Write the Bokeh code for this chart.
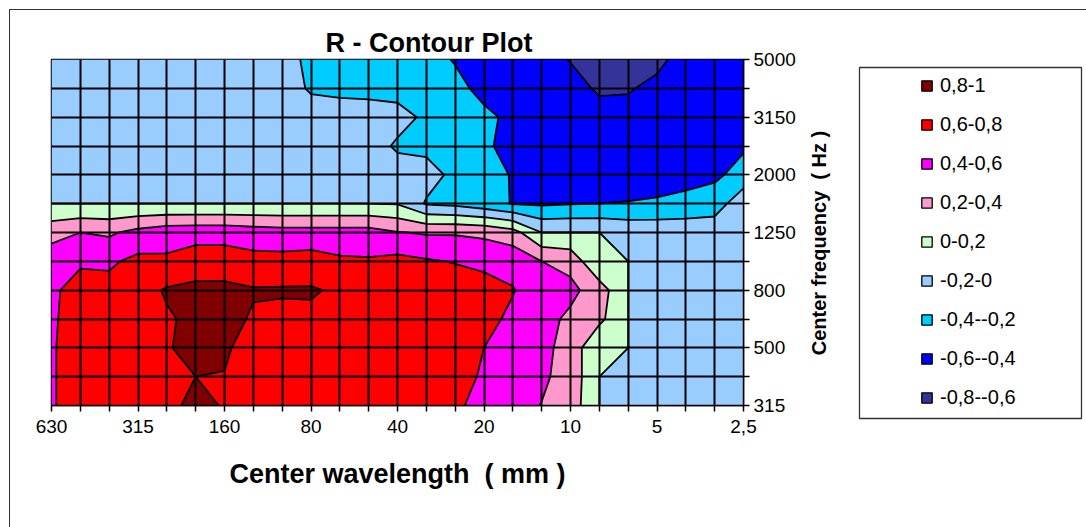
import numpy as np

from bokeh.plotting import figure
from bokeh.layouts import row, column
from bokeh.models import (FixedTicker, Legend, LegendItem, LinearAxis, Range1d,
                          Spacer)
from bokeh.embed import file_html
from bokeh.resources import INLINE

# 1/3-octave centre wavelengths (mm), left to right
wavelength_labels = ["630", "500", "400", "315", "250", "200", "160", "125",
                     "100", "80", "63", "50", "40", "31,5", "25", "20", "16",
                     "12,5", "10", "8", "6,3", "5", "4", "3,15", "2,5"]
# 1/3-octave centre frequencies (Hz), bottom to top
frequency_labels = ["315", "400", "500", "630", "800", "1000", "1250", "1600",
                    "2000", "2500", "3150", "4000", "5000"]

# R for each frequency band, one value per wavelength band (630 mm ... 2,5 mm)
r_315 = [0.58, 0.70, 0.72, 0.74, 0.76, 0.84, 0.79, 0.74, 0.74, 0.74, 0.74, 0.74, 0.74,
         0.71, 0.65, 0.50, 0.47, 0.395, 0.31, 0.0, -0.05, -0.08, -0.08, -0.08, -0.08]
r_400 = [0.58, 0.70, 0.72, 0.74, 0.76, 0.80, 0.795, 0.74, 0.74, 0.74, 0.74, 0.74, 0.74,
         0.72, 0.66, 0.58, 0.50, 0.43, 0.33, 0.0, -0.05, -0.08, -0.08, -0.08, -0.08]
r_500 = [0.58, 0.70, 0.72, 0.74, 0.79, 0.84, 0.82, 0.74, 0.74, 0.74, 0.74, 0.74, 0.74,
         0.72, 0.68, 0.60, 0.52, 0.45, 0.33, 0.0, 0.0, -0.08, -0.08, -0.08, -0.08]
r_630 = [0.57, 0.70, 0.70, 0.74, 0.78, 0.84, 0.86, 0.78, 0.75, 0.76, 0.75, 0.74, 0.74,
         0.73, 0.69, 0.66, 0.56, 0.47, 0.36, 0.25, 0.0, -0.08, -0.08, -0.08, -0.08]
r_800 = [0.56, 0.69, 0.66, 0.72, 0.82, 0.85, 0.85, 0.815, 0.82, 0.82, 0.77, 0.74, 0.74,
         0.73, 0.70, 0.70, 0.61, 0.50, 0.45, 0.30, 0.0, -0.08, -0.08, -0.08, -0.08]
r_1000 = [0.51, 0.57, 0.57, 0.65, 0.63, 0.69, 0.69, 0.66, 0.66, 0.68, 0.63, 0.62, 0.66,
          0.62, 0.59, 0.54, 0.54, 0.40, 0.34, 0.0, 0.0, -0.08, -0.08, -0.08, -0.08]
r_1250 = [0.33, 0.40, 0.37, 0.46, 0.52, 0.53, 0.53, 0.50, 0.48, 0.48, 0.48, 0.48, 0.41,
          0.38, 0.38, 0.36, 0.28, 0.0, 0.0, 0.0, -0.05, -0.06, -0.06, -0.05, -0.05]
r_1600 = [0.0, 0.0, 0.0, 0.0, 0.0, 0.0, 0.0, 0.0, 0.0, 0.0, 0.0, 0.0, -0.01,
          -0.22, -0.25, -0.32, -0.41, -0.43, -0.41, -0.40, -0.39, -0.375, -0.35, -0.32, -0.04]
r_2000 = [-0.1, -0.1, -0.1, -0.1, -0.1, -0.1, -0.1, -0.1, -0.1, -0.1, -0.1, -0.1, -0.12,
          -0.12, -0.25, -0.34, -0.41, -0.50, -0.52, -0.52, -0.51, -0.49, -0.46, -0.43, -0.34]
r_2500 = [-0.1, -0.1, -0.1, -0.1, -0.1, -0.1, -0.1, -0.1, -0.1, -0.12, -0.12, -0.12, -0.225,
          -0.25, -0.28, -0.37, -0.46, -0.52, -0.54, -0.55, -0.55, -0.54, -0.53, -0.50, -0.42]
r_3150 = [-0.1, -0.1, -0.1, -0.1, -0.1, -0.1, -0.1, -0.1, -0.1, -0.12, -0.12, -0.12, -0.14,
          -0.23, -0.30, -0.37, -0.43, -0.50, -0.53, -0.56, -0.56, -0.55, -0.54, -0.52, -0.50]
r_4000 = [-0.1, -0.1, -0.1, -0.1, -0.1, -0.1, -0.1, -0.1, -0.12, -0.22, -0.24, -0.25, -0.26,
          -0.30, -0.36, -0.44, -0.50, -0.54, -0.56, -0.615, -0.61, -0.57, -0.55, -0.54, -0.52]
r_5000 = [-0.1, -0.1, -0.1, -0.1, -0.1, -0.1, -0.1, -0.1, -0.15, -0.23, -0.28, -0.30, -0.32,
          -0.35, -0.41, -0.48, -0.52, -0.56, -0.605, -0.68, -0.68, -0.63, -0.55, -0.55, -0.52]

# contour bands, lowest first
band_levels = [-0.8, -0.6, -0.4, -0.2, 0.0, 0.2, 0.4, 0.6, 0.8, 1.0]
band_labels = ["-0,8--0,6", "-0,6--0,4", "-0,4--0,2", "-0,2-0", "0-0,2",
               "0,2-0,4", "0,4-0,6", "0,6-0,8", "0,8-1"]
band_colors = ["#333399", "#0000FF", "#00CCFF", "#99CCFF", "#CCFFCC",
               "#FF99CC", "#FF00FF", "#FF0000", "#800000"]

z = np.array([r_315, r_400, r_500, r_630, r_800, r_1000, r_1250, r_1600,
              r_2000, r_2500, r_3150, r_4000, r_5000])
xs = np.arange(len(wavelength_labels))
ys = np.arange(len(frequency_labels))

# a value of exactly 0 belongs to the "0-0,2" band
contour_levels = [lv - 1e-4 if lv == 0.0 else lv for lv in band_levels]

FONT = "Liberation Sans"
TICK_SIZE = "19px"

# ---- contour plot -------------------------------------------------------
fig = figure(width=790, height=517,
             x_range=Range1d(0, len(xs) - 1), y_range=Range1d(0, len(ys) - 1),
             y_axis_location="right",
             output_backend="svg", toolbar_location=None,
             min_border_left=41, min_border_right=57,
             min_border_top=49, min_border_bottom=122)
fig.background_fill_color = "white"
fig.border_fill_color = "white"
fig.outline_line_color = "black"
fig.outline_line_width = 1.5

fig.contour(xs, ys, z, levels=contour_levels, fill_color=band_colors,
            line_color="black", line_width=1.8)

fig.title.text = "R - Contour Plot"
fig.title.align = "left"
fig.title.offset = 274
fig.title.standoff = 4
fig.title.text_font = FONT
fig.title.text_font_size = "27px"
fig.title.text_font_style = "bold"
fig.title.text_color = "black"

fig.xaxis.ticker = FixedTicker(ticks=list(xs), minor_ticks=[])
fig.xaxis.major_label_overrides = {int(i): (lbl if i % 3 == 0 else "")
                                   for i, lbl in enumerate(wavelength_labels)}
fig.yaxis.ticker = FixedTicker(ticks=list(ys), minor_ticks=[])
fig.yaxis.major_label_overrides = {int(i): (lbl if i % 2 == 0 else "")
                                   for i, lbl in enumerate(frequency_labels)}
for ax in (fig.xaxis[0], fig.yaxis[0]):
    ax.axis_line_color = "black"
    ax.axis_line_width = 1.5
    ax.major_tick_line_color = "black"
    ax.major_tick_line_width = 1.5
    ax.major_tick_in = 0
    ax.major_tick_out = 6
    ax.minor_tick_line_color = None
    ax.major_label_text_font = FONT
    ax.major_label_text_font_size = TICK_SIZE
    ax.major_label_text_color = "black"
fig.xaxis.major_label_standoff = 8
fig.yaxis.major_label_standoff = 4
fig.xaxis.axis_label = "Center wavelength\u00a0 ( mm )"
fig.xaxis.axis_label_text_font = FONT
fig.xaxis.axis_label_text_font_size = "27px"
fig.xaxis.axis_label_text_font_style = "bold"
fig.xaxis.axis_label_text_color = "black"
fig.xaxis.axis_label_standoff = 23

# grid drawn over the filled bands
fig.grid.grid_line_color = "black"
fig.grid.grid_line_width = 2
fig.grid.grid_line_alpha = 1.0
fig.grid.level = "overlay"

# ---- legend box, with the frequency axis title on its left ---------------
leg = figure(width=286, height=509, x_range=Range1d(0, 1), y_range=Range1d(0, 1),
             x_axis_location=None, y_axis_location=None,
             output_backend="svg", toolbar_location=None,
             min_border_left=59, min_border_right=5,
             min_border_top=49, min_border_bottom=109)
leg.background_fill_color = "white"
leg.border_fill_color = "white"
leg.outline_line_color = "#333333"
leg.outline_line_width = 1.3
leg.grid.visible = False

freq_title = LinearAxis(ticker=FixedTicker(ticks=[]),
                        axis_label="Center frequency\u00a0 ( Hz )",
                        axis_label_text_font=FONT,
                        axis_label_text_font_size="20px",
                        axis_label_text_font_style="bold",
                        axis_label_text_color="black",
                        axis_label_standoff=30,
                        axis_line_color=None, major_tick_line_color=None,
                        minor_tick_line_color=None, major_tick_out=0,
                        major_label_text_font_size="0px")
leg.add_layout(freq_title, "left")

# legend swatches come from placeholder renderers that draw nothing
nan = np.array([np.nan])
items = []
for lbl, col in reversed(list(zip(band_labels, band_colors))):
    swatch = leg.quad(left=nan, right=nan, top=nan, bottom=nan, fill_color=col,
                      line_color="black", line_width=1.3)
    items.append(LegendItem(label=lbl, renderers=[swatch]))
legend = Legend(items=items, location=(61, 9), orientation="vertical",
                padding=0, margin=0, spacing=16, label_height=23,
                glyph_height=13, glyph_width=13, label_standoff=7,
                border_line_alpha=0, background_fill_alpha=0,
                label_text_font=FONT, label_text_font_size="20px",
                label_text_color="black")
leg.add_layout(legend)

side = column(Spacer(width=286, height=8), leg, spacing=0)

# chart area with its border line on the left and top
p = row(fig, side, spacing=0, margin=(9, 0, 0, 9),
        styles={"border-left": "1px solid #333333",
                "border-top": "1px solid #333333"})

open("out.html", "w").write(file_html(p, INLINE))
